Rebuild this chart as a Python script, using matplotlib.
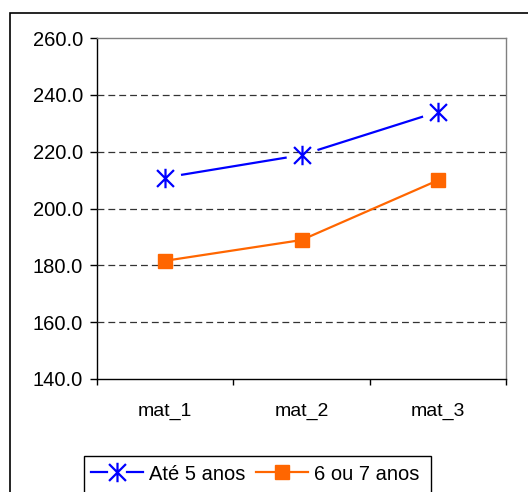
import matplotlib
matplotlib.use("Agg")
import matplotlib.pyplot as plt
from matplotlib.path import Path
from matplotlib.lines import Line2D
from matplotlib.patches import Rectangle
from matplotlib.legend_handler import HandlerBase
from matplotlib.ticker import FormatStrFormatter

plt.rcParams['font.family'] = ['Liberation Sans', 'DejaVu Sans']

categories = ["mat_1", "mat_2", "mat_3"]
ate_5_anos = [210.9, 218.8, 234.0]
seis_ou_7_anos = [181.6, 188.9, 209.9]
series_labels = ["Até 5 anos", "6 ou 7 anos"]
y_ticks = [140, 160, 180, 200, 220, 240, 260]

BLUE = "#0000FF"
ORANGE = "#FF6600"

W, H = 528, 492
fig = plt.figure(figsize=(W / 100, H / 100), dpi=100)

# outer chart frame (runs past the right and bottom edges)
fig.patches.append(Rectangle((10 / W, -0.1), 1.2, 1 - 13 / H + 0.1,
                             transform=fig.transFigure, fill=False,
                             edgecolor="black", linewidth=1.2))

left, right, top, bottom = 97, 506, 38, 379
ax = fig.add_axes([left / W, 1 - bottom / H, (right - left) / W, (bottom - top) / H])

# asterisk marker: an X crossed by a vertical bar
star = Path([(-1, -1), (1, 1), (-1, 1), (1, -1), (0, -1.15), (0, 1.15)],
            [Path.MOVETO, Path.LINETO, Path.MOVETO, Path.LINETO, Path.MOVETO, Path.LINETO])

x = list(range(len(categories)))

ax.plot(x, ate_5_anos, color=BLUE, lw=1.6, zorder=2)
ax.plot(x, ate_5_anos, ls="none", marker="o", ms=23, mfc="white", mec="none", zorder=2.5)
ax.plot(x, ate_5_anos, ls="none", marker=star, ms=14, mec=BLUE, mew=1.6, zorder=4)
ax.plot(x, seis_ou_7_anos, color=ORANGE, lw=1.6, marker="s", ms=10,
        mfc=ORANGE, mec=ORANGE, zorder=4)

for v in y_ticks[1:-1]:
    ax.axhline(v, color="#333333", lw=0.9, dashes=(5.5, 3.2), zorder=3)

ax.set_xlim(-0.5, 2.5)
ax.set_ylim(140, 260)
ax.set_yticks(y_ticks)
ax.yaxis.set_major_formatter(FormatStrFormatter("%.1f"))
ax.set_xticks(x)
ax.set_xticklabels(categories)
ax.set_xticks([-0.5, 0.5, 1.5, 2.5], minor=True)
ax.tick_params(axis="x", which="major", length=0, pad=17, labelsize=14)
ax.tick_params(axis="x", which="minor", length=4, width=1, direction="out")
ax.tick_params(axis="y", length=5, width=1, direction="out", pad=5, labelsize=14.5)

for s in ("left", "bottom"):
    ax.spines[s].set_color("black")
    ax.spines[s].set_linewidth(1)
for s in ("top", "right"):
    ax.spines[s].set_color("#808080")
    ax.spines[s].set_linewidth(1)


class GappedMarkerHandler(HandlerBase):
    """Legend key: a line broken around a centred marker."""

    def __init__(self, color, marker, ms, mew, gap):
        super().__init__()
        self.color, self.marker, self.ms, self.mew, self.gap = color, marker, ms, mew, gap

    def create_artists(self, legend, orig_handle, xdescent, ydescent, width, height,
                       fontsize, trans):
        y = height / 2 - ydescent
        x0, x1 = -xdescent, -xdescent + width
        xc = (x0 + x1) / 2
        g = self.gap
        a = Line2D([x0, xc - g], [y, y], color=self.color, lw=1.6, transform=trans)
        b = Line2D([xc + g, x1], [y, y], color=self.color, lw=1.6, transform=trans)
        m = Line2D([xc], [y], ls="none", marker=self.marker, ms=self.ms,
                   mec=self.color, mew=self.mew, transform=trans)
        return [a, b, m]


# legend frame and entries
fig.patches.append(Rectangle((84 / W, -0.1), (431 - 84) / W, 1 - 456 / H + 0.1,
                             transform=fig.transFigure, fill=False,
                             edgecolor="black", linewidth=1))
h_blue = Line2D([], [], color=BLUE, lw=1.6)
h_orange = Line2D([], [], color=ORANGE, lw=1.6, marker="s", ms=10, mfc=ORANGE, mec=ORANGE)
fig.legend([h_blue, h_orange], series_labels, loc="center left",
           bbox_to_anchor=(91 / W, 1 - 474 / H), ncol=2, frameon=False,
           fontsize=14.5, handlelength=2.6, handletextpad=0.3, columnspacing=0.5,
           borderpad=0, borderaxespad=0,
           handler_map={h_blue: GappedMarkerHandler(BLUE, star, 14, 1.6, 7)})

fig.savefig("out.png", dpi=100)
